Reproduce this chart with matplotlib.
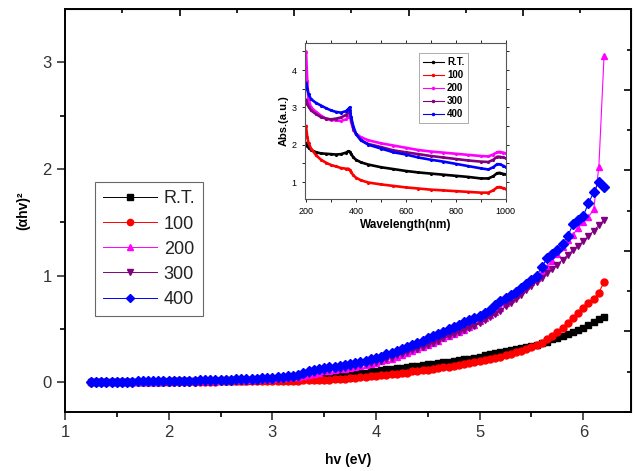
import numpy as np
import matplotlib.pyplot as plt

plt.rcParams['font.family'] = ['Liberation Sans', 'DejaVu Sans']

# photon energy grid where values were read (eV)
hv = np.round(np.arange(1.25, 6.201, 0.05), 2)

rt = [0.00, 0.00, 0.00, 0.00, 0.00, 0.00, 0.00, 0.00, 0.00, 0.00,
      0.00, 0.00, 0.00, 0.00, 0.00, 0.00, 0.01, 0.01, 0.01, 0.01,
      0.01, 0.01, 0.01, 0.01, 0.01, 0.01, 0.01, 0.01, 0.01, 0.01,
      0.01, 0.02, 0.02, 0.02, 0.02, 0.02, 0.03, 0.03, 0.03, 0.03,
      0.04, 0.04, 0.04, 0.05, 0.05, 0.05, 0.06, 0.06, 0.07, 0.07,
      0.08, 0.08, 0.09, 0.09, 0.10, 0.10, 0.11, 0.12, 0.12, 0.13,
      0.13, 0.14, 0.15, 0.15, 0.16, 0.17, 0.17, 0.18, 0.19, 0.19,
      0.20, 0.21, 0.22, 0.22, 0.23, 0.24, 0.25, 0.26, 0.27, 0.28,
      0.29, 0.30, 0.31, 0.32, 0.33, 0.34, 0.35, 0.37, 0.38, 0.40,
      0.41, 0.43, 0.45, 0.47, 0.49, 0.51, 0.54, 0.56, 0.59, 0.61]

t100 = [0.00, 0.00, 0.00, 0.00, 0.00, 0.00, 0.00, 0.00, 0.00, 0.00,
        0.00, 0.00, 0.00, 0.00, 0.00, 0.00, 0.00, 0.00, 0.00, 0.00,
        0.00, 0.00, 0.00, 0.00, 0.00, 0.01, 0.01, 0.01, 0.01, 0.01,
        0.01, 0.01, 0.01, 0.01, 0.01, 0.01, 0.01, 0.01, 0.01, 0.01,
        0.01, 0.02, 0.02, 0.02, 0.02, 0.02, 0.02, 0.03, 0.03, 0.03,
        0.04, 0.04, 0.05, 0.05, 0.06, 0.06, 0.07, 0.07, 0.08, 0.08,
        0.09, 0.09, 0.10, 0.10, 0.11, 0.11, 0.12, 0.13, 0.14, 0.14,
        0.15, 0.16, 0.17, 0.18, 0.19, 0.20, 0.21, 0.22, 0.23, 0.24,
        0.25, 0.26, 0.28, 0.29, 0.31, 0.33, 0.35, 0.37, 0.40, 0.43,
        0.47, 0.51, 0.55, 0.60, 0.65, 0.70, 0.74, 0.78, 0.84, 0.94]

t200 = [0.00, 0.00, 0.00, 0.00, 0.00, 0.00, 0.00, 0.00, 0.00, 0.00,
        0.00, 0.00, 0.00, 0.00, 0.01, 0.01, 0.01, 0.01, 0.01, 0.01,
        0.01, 0.01, 0.01, 0.01, 0.01, 0.02, 0.02, 0.02, 0.02, 0.02,
        0.02, 0.02, 0.03, 0.03, 0.03, 0.03, 0.04, 0.04, 0.05, 0.05,
        0.05, 0.06, 0.07, 0.08, 0.09, 0.10, 0.10, 0.11, 0.12, 0.12,
        0.13, 0.14, 0.15, 0.16, 0.17, 0.18, 0.20, 0.21, 0.22, 0.24,
        0.25, 0.27, 0.29, 0.31, 0.33, 0.35, 0.37, 0.39, 0.41, 0.43,
        0.45, 0.47, 0.49, 0.52, 0.54, 0.57, 0.60, 0.63, 0.66, 0.70,
        0.74, 0.78, 0.82, 0.86, 0.90, 0.94, 0.98, 1.03, 1.08, 1.14,
        1.20, 1.27, 1.33, 1.38, 1.45, 1.50, 1.55, 1.62, 2.02, 3.06]

t300 = [0.00, 0.00, 0.00, 0.00, 0.00, 0.00, 0.00, 0.00, 0.00, 0.00,
        0.00, 0.00, 0.00, 0.00, 0.01, 0.01, 0.01, 0.01, 0.01, 0.01,
        0.01, 0.01, 0.01, 0.01, 0.01, 0.02, 0.02, 0.02, 0.02, 0.02,
        0.02, 0.02, 0.03, 0.03, 0.03, 0.03, 0.04, 0.04, 0.05, 0.05,
        0.06, 0.07, 0.08, 0.09, 0.10, 0.10, 0.11, 0.12, 0.12, 0.13,
        0.14, 0.15, 0.16, 0.17, 0.18, 0.19, 0.20, 0.22, 0.23, 0.25,
        0.26, 0.28, 0.30, 0.31, 0.33, 0.35, 0.37, 0.39, 0.41, 0.43,
        0.45, 0.47, 0.49, 0.51, 0.53, 0.55, 0.58, 0.61, 0.64, 0.67,
        0.71, 0.74, 0.78, 0.82, 0.86, 0.90, 0.94, 0.98, 1.02, 1.06,
        1.10, 1.15, 1.19, 1.24, 1.28, 1.32, 1.37, 1.42, 1.47, 1.52]

t400 = [0.00, 0.00, 0.00, 0.00, 0.00, 0.00, 0.00, 0.00, 0.00, 0.01,
        0.01, 0.01, 0.01, 0.01, 0.01, 0.01, 0.01, 0.01, 0.01, 0.01,
        0.01, 0.02, 0.02, 0.02, 0.02, 0.02, 0.02, 0.02, 0.03, 0.03,
        0.03, 0.03, 0.03, 0.04, 0.04, 0.04, 0.05, 0.05, 0.06, 0.06,
        0.07, 0.09, 0.10, 0.11, 0.12, 0.13, 0.14, 0.14, 0.15, 0.16,
        0.17, 0.18, 0.19, 0.20, 0.22, 0.23, 0.24, 0.26, 0.27, 0.29,
        0.31, 0.33, 0.35, 0.37, 0.39, 0.41, 0.43, 0.45, 0.47, 0.50,
        0.52, 0.54, 0.56, 0.58, 0.60, 0.62, 0.65, 0.68, 0.72, 0.76,
        0.79, 0.82, 0.85, 0.88, 0.92, 0.96, 1.00, 1.08, 1.16, 1.20,
        1.24, 1.30, 1.37, 1.48, 1.52, 1.56, 1.68, 1.78, 1.88, 1.83]

# inset: absorbance spectra
wl = [200, 205, 210, 220, 240, 260, 280, 300, 320, 340, 360, 370, 375, 380,
      390, 400, 420, 450, 500, 550, 600, 650, 700, 750, 800, 850, 900, 930,
      950, 965, 975, 990, 1000]
abs_rt = [2.04, 1.98, 1.92, 1.86, 1.80, 1.77, 1.76, 1.75, 1.74, 1.75, 1.79,
          1.83, 1.82, 1.76, 1.66, 1.60, 1.53, 1.47, 1.40, 1.35, 1.30, 1.26,
          1.23, 1.20, 1.17, 1.14, 1.10, 1.10, 1.16, 1.24, 1.25, 1.22, 1.21]
abs_100 = [2.50, 2.20, 2.05, 1.90, 1.72, 1.60, 1.52, 1.46, 1.42, 1.38, 1.36,
           1.36, 1.33, 1.27, 1.18, 1.12, 1.05, 0.99, 0.94, 0.90, 0.86, 0.83,
           0.80, 0.78, 0.76, 0.74, 0.72, 0.72, 0.78, 0.86, 0.87, 0.84, 0.82]
abs_200 = [4.49, 3.70, 3.20, 3.00, 2.88, 2.78, 2.70, 2.67, 2.65, 2.64, 2.68,
           2.75, 2.85, 2.62, 2.40, 2.30, 2.20, 2.12, 2.04, 1.98, 1.92, 1.86,
           1.82, 1.79, 1.76, 1.73, 1.70, 1.69, 1.74, 1.80, 1.81, 1.79, 1.77]
abs_300 = [3.20, 3.10, 3.02, 2.92, 2.82, 2.74, 2.70, 2.68, 2.70, 2.73, 2.80,
           2.88, 2.93, 2.70, 2.42, 2.28, 2.12, 2.02, 1.94, 1.85, 1.80, 1.75,
           1.70, 1.66, 1.62, 1.58, 1.55, 1.54, 1.60, 1.68, 1.68, 1.66, 1.64]
abs_400 = [3.65, 3.50, 3.35, 3.22, 3.12, 3.05, 2.98, 2.92, 2.88, 2.86, 2.90,
           2.96, 3.00, 2.75, 2.48, 2.30, 2.12, 2.00, 1.90, 1.80, 1.74, 1.66,
           1.60, 1.55, 1.49, 1.43, 1.37, 1.34, 1.40, 1.48, 1.48, 1.44, 1.40]

labels = ['R.T.', '100', '200', '300', '400']
colors = ['black', '#ff0000', '#ff00ff', '#800080', '#0000ff']
markers = ['s', 'o', '^', 'v', 'D']

fig = plt.figure(figsize=(6.35, 4.71), dpi=100)
ax = fig.add_axes([0.1024, 0.1253, 0.8913, 0.8556])

for y, lab, c, m in zip([rt, t100, t200, t300, t400], labels, colors, markers):
    ms = 4.6 if m == 'D' else 5
    ax.plot(hv, y, color=c, lw=0.8, marker=m, ms=ms, mec=c, mfc=c, label=lab)

ax.set_xlim(1, 6.46)
ax.set_ylim(-0.28, 3.5)
ax.set_xticks([1, 2, 3, 4, 5, 6])
ax.set_xticks(np.arange(1.5, 6.5, 1.0), minor=True)
ax.set_yticks([0, 1, 2, 3])
ax.set_yticks([0.5, 1.5, 2.5], minor=True)
ax.tick_params(which='major', direction='out', length=6, width=1.2,
               labelsize=12, colors='#333333')
ax.tick_params(which='minor', direction='out', length=3.5, width=1.2)
for s in ax.spines.values():
    s.set_linewidth(1.4)
ax.set_xlabel('hv (eV)', fontsize=10, fontweight='bold', labelpad=9)
ax.set_ylabel('(αhv)²', fontsize=10, fontweight='bold', labelpad=9)

# mirrored frame ticks on top and right
top = ax.secondary_xaxis('top')
top.set_xticks([1 + 0.5525 * k for k in range(0, 11, 2)], labels=[])
top.set_xticks([1 + 0.5525 * k for k in range(1, 10, 2)], minor=True)
top.tick_params(which='major', direction='in', length=5, width=1.2)
top.tick_params(which='minor', direction='in', length=3, width=1.2)
right = ax.secondary_yaxis('right')
right.set_yticks([-0.28 + 0.3777 * k for k in range(0, 11, 2)], labels=[])
right.set_yticks([-0.28 + 0.3777 * k for k in range(1, 10, 2)], minor=True)
right.tick_params(which='major', direction='in', length=5, width=1.2)
right.tick_params(which='minor', direction='in', length=3, width=1.2)

leg = ax.legend(loc='upper left', bbox_to_anchor=(0.053, 0.57), fontsize=13,
                frameon=True, fancybox=False, edgecolor='#444444',
                handlelength=3.0, handletextpad=0.35, labelspacing=0.45,
                borderpad=0.45, borderaxespad=0, numpoints=1)
leg.get_frame().set_linewidth(0.8)
for t in leg.get_texts():
    t.set_color('#222222')
for h in leg.get_lines():
    h.set_markersize(4.5)
    h.set_linewidth(0.7)

# inset
ins = fig.add_axes([0.480, 0.5775, 0.3165, 0.331])
for y, lab, c in zip([abs_rt, abs_100, abs_200, abs_300, abs_400], labels, colors):
    ins.plot(wl, y, color=c, lw=1.9, marker='.', ms=2.5, label=lab)
ins.set_xlim(195, 1000)
ins.set_ylim(0.55, 4.72)
ins.set_xticks([200, 400, 600, 800, 1000])
ins.set_xticks([300, 500, 700, 900], minor=True)
ins.set_yticks([1, 2, 3, 4])
ins.set_yticks([1.5, 2.5, 3.5, 4.5], minor=True)
ins.tick_params(which='both', labelsize=6.5, length=2.5, width=0.6,
                top=True, right=True, direction='out')
for s in ins.spines.values():
    s.set_linewidth(0.8)
    s.set_color('#555555')
ins.set_xlabel('Wavelength(nm)', fontsize=8.5, fontweight='bold', labelpad=2)
ins.set_ylabel('Abs.(a.u.)', fontsize=8, fontweight='bold', labelpad=2)
il = ins.legend(loc='upper left', bbox_to_anchor=(0.567, 0.936),
                fancybox=False, edgecolor='#888888', handlelength=2.2,
                handletextpad=0.3, labelspacing=0.32, borderpad=0.4,
                borderaxespad=0, prop={'weight': 'bold', 'size': 7})
il.get_frame().set_linewidth(0.6)
for h in il.get_lines():
    h.set_linewidth(0.8)
    h.set_markersize(3)

fig.savefig('out.png', dpi=100)
